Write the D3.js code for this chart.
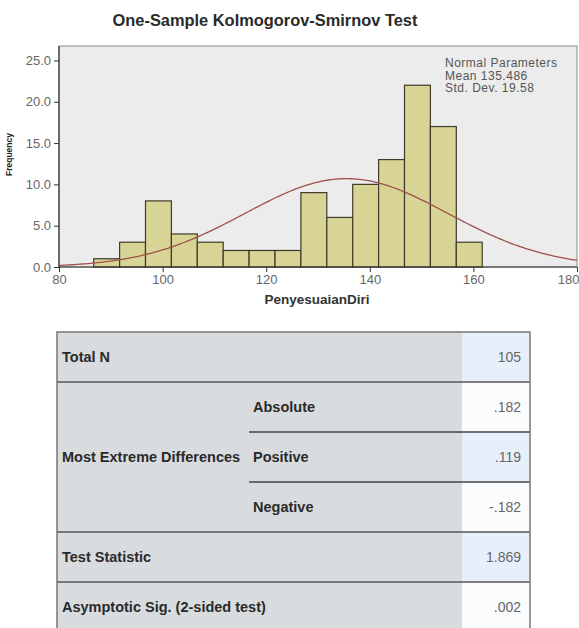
<!DOCTYPE html>
<meta charset="utf-8">
<style>
body { margin: 0; background: #fff; }
svg text { font-family: "Liberation Sans", Arial, sans-serif; }
</style>
<body>
<script src="https://d3js.org/d3.v7.min.js"></script>
<script>

////*Data*////
const binLower = [86.7, 91.7, 96.7, 101.7, 106.7, 111.7, 116.7, 121.7, 126.7, 131.7, 136.7, 141.7, 146.7, 151.7, 156.7];
const binFreq  = [1, 3, 8, 4, 3, 2, 2, 2, 9, 6, 10, 13, 22, 17, 3];
const binWidth = 5;
const normMean = 135.486;
const normSd = 19.58;
const totalN = 105;
const xTicks = [80, 100, 120, 140, 160, 180];
const yTicks = [0, 5, 10, 15, 20, 25];
const legendLines = ["Normal Parameters", "Mean 135.486", "Std. Dev. 19.58"];

const rowLabels = ["Total N", "Most Extreme Differences", "Test Statistic", "Asymptotic Sig. (2-sided test)"];
const subLabels = ["Absolute", "Positive", "Negative"];
const rowValues = ["105", ".182", ".119", "-.182", "1.869", ".002"];

////*Layout*////
const plot = { left: 59, right: 577, top: 46, bottom: 267 };

const svg = d3.select("body").append("svg")
   .attr("width", 579)
   .attr("height", 628);

svg.append("text")
   .attr("x", 265).attr("y", 26)
   .attr("text-anchor", "middle")
   .style("font-size", "16.4px")
   .style("font-weight", "bold")
   .style("fill", "#2a2a2a")
   .text("One-Sample Kolmogorov-Smirnov Test");

let xScale = d3.scaleLinear().domain([80, 180]).range([plot.left, plot.right]);
let yScale = d3.scaleLinear().domain([0, 26.75]).range([plot.bottom, plot.top]);

// plot background + frame
svg.append("rect")
   .attr("x", plot.left).attr("y", plot.top)
   .attr("width", plot.right - plot.left).attr("height", plot.bottom - plot.top)
   .attr("fill", "#ececec")
   .attr("stroke", "#8a8a8a")
   .attr("stroke-width", 1);

// bars
svg.append("g")
   .selectAll("rect")
   .data(binFreq)
   .join("rect")
   .attr("x", (d, i) => xScale(binLower[i]))
   .attr("y", d => yScale(d))
   .attr("width", (d, i) => xScale(binLower[i] + binWidth) - xScale(binLower[i]))
   .attr("height", d => yScale(0) - yScale(d))
   .attr("fill", "#d7d496")
   .attr("stroke", "#3d3b2a")
   .attr("stroke-width", 1.2);

// normal curve
const scaleK = totalN * binWidth / (normSd * Math.sqrt(2 * Math.PI));
const curvePts = d3.range(80, 180.5, 0.5).map(x => [x, scaleK * Math.exp(-0.5 * ((x - normMean) / normSd) ** 2)]);
svg.append("path")
   .datum(curvePts)
   .attr("fill", "none")
   .attr("stroke", "#a0504a")
   .attr("stroke-width", 1.3)
   .attr("d", d3.line().x(d => xScale(d[0])).y(d => yScale(d[1])));

// axes
const yAxis = d3.axisLeft(yScale).tickValues(yTicks).tickFormat(d3.format(".1f")).tickSize(5);
const xAxis = d3.axisBottom(xScale).tickValues(xTicks).tickFormat(d3.format("d")).tickSize(5);

const yG = svg.append("g").attr("transform", `translate(${plot.left},0)`).call(yAxis);
const xG = svg.append("g").attr("transform", `translate(0,${plot.bottom})`).call(xAxis);
[yG, xG].forEach(g => {
   g.select(".domain").attr("stroke", "#333").attr("stroke-width", 1.2);
   g.selectAll(".tick line").attr("stroke", "#333");
   g.selectAll(".tick text").style("font-size", "13px").style("fill", "#666");
});
yG.select(".domain").attr("d", `M0,${plot.top}V${plot.bottom}`);
xG.select(".domain").attr("d", `M${plot.left},0H${plot.right}`);
// last x label would be clipped by the page edge, pull it inside
xG.selectAll(".tick text").filter(d => d === 180).attr("text-anchor", "end").attr("x", 2);

svg.append("text")
   .attr("transform", `translate(12,${(plot.top + plot.bottom) / 2 - 2}) rotate(-90)`)
   .attr("text-anchor", "middle")
   .style("font-size", "8.5px").style("font-weight", "bold").style("fill", "#222")
   .text("Frequency");

svg.append("text")
   .attr("x", 317).attr("y", 304)
   .attr("text-anchor", "middle")
   .style("font-size", "13.5px").style("font-weight", "bold").style("fill", "#333")
   .text("PenyesuaianDiri");

svg.append("g")
   .selectAll("text")
   .data(legendLines)
   .join("text")
   .attr("x", 445)
   .attr("y", (d, i) => 67 + i * 12.5)
   .style("font-size", "12px")
   .style("letter-spacing", "0.5px")
   .style("fill", "#555")
   .text(d => d);

////*Table*////
const tbl = { left: 57, right: 530, top: 332, valLeft: 462, subLeft: 249, rowH: 50 };
const rowTops = d3.range(7).map(i => tbl.top + i * tbl.rowH);

svg.append("rect")
   .attr("x", tbl.left).attr("y", tbl.top)
   .attr("width", tbl.valLeft - tbl.left).attr("height", 300)
   .attr("fill", "#d9dcdf");

svg.append("g")
   .selectAll("rect")
   .data(rowValues)
   .join("rect")
   .attr("x", tbl.valLeft).attr("y", (d, i) => rowTops[i])
   .attr("width", tbl.right - tbl.valLeft).attr("height", tbl.rowH)
   .attr("fill", (d, i) => i % 2 === 0 ? "#e7f0fa" : "#fbfcfe");

// values
svg.append("g")
   .selectAll("text")
   .data(rowValues)
   .join("text")
   .attr("x", 521)
   .attr("y", (d, i) => rowTops[i] + tbl.rowH / 2 + 5)
   .attr("text-anchor", "end")
   .style("font-size", "14px").style("fill", "#666")
   .text(d => d);

// labels
const labelRows = [0, 2, 4, 5];
svg.append("g")
   .selectAll("text")
   .data(rowLabels)
   .join("text")
   .attr("x", 62)
   .attr("y", (d, i) => rowTops[labelRows[i]] + tbl.rowH / 2 + 5)
   .style("font-size", "14.5px").style("font-weight", "bold").style("fill", "#2a2a2a")
   .text(d => d);

svg.append("g")
   .selectAll("text")
   .data(subLabels)
   .join("text")
   .attr("x", 253)
   .attr("y", (d, i) => rowTops[i + 1] + tbl.rowH / 2 + 5)
   .style("font-size", "14.5px").style("font-weight", "bold").style("fill", "#2a2a2a")
   .text(d => d);

// grid lines
const fullLines = [1, 4, 5];
svg.append("g")
   .selectAll("line")
   .data(fullLines)
   .join("line")
   .attr("x1", tbl.left).attr("x2", tbl.right)
   .attr("y1", d => rowTops[d]).attr("y2", d => rowTops[d])
   .attr("stroke", "#555").attr("stroke-width", 1.5);

svg.append("g")
   .selectAll("line")
   .data([2, 3])
   .join("line")
   .attr("x1", tbl.subLeft).attr("x2", tbl.right)
   .attr("y1", d => rowTops[d]).attr("y2", d => rowTops[d])
   .attr("stroke", "#444").attr("stroke-width", 1.3);

svg.append("path")
   .attr("d", `M${tbl.left},640V${tbl.top}H${tbl.right}V640`)
   .attr("fill", "none")
   .attr("stroke", "#777")
   .attr("stroke-width", 1.5);

</script>
</body>
</html>
